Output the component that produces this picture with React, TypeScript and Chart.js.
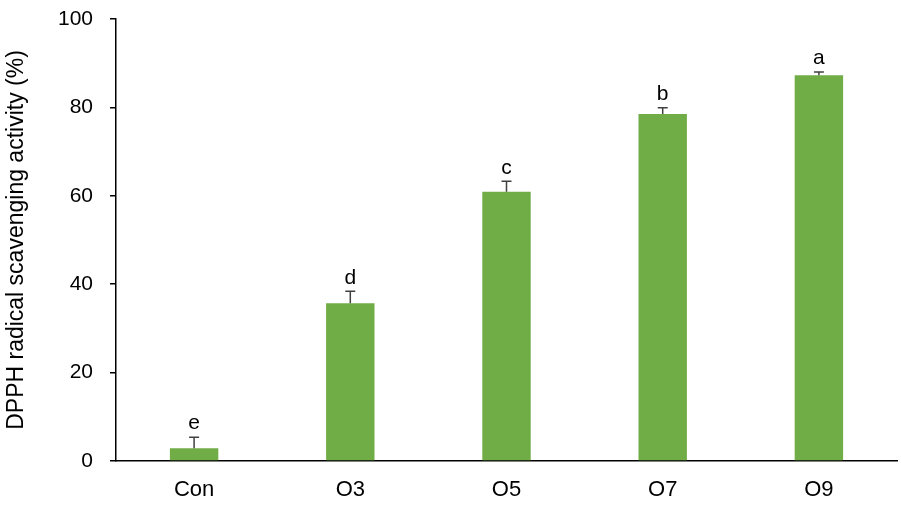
import React, { useEffect, useRef } from "react";
import { Chart, registerables } from "chart.js";

Chart.register(...registerables);

const categories = ["Con", "O3", "O5", "O7", "O9"];
const values = [2.9, 35.7, 60.9, 78.5, 87.3];
const errors = [2.5, 2.7, 2.4, 1.4, 0.7];
const letters = ["e", "d", "c", "b", "a"];
const yTicks = [0, 20, 40, 60, 80, 100];

const FONT = "'Liberation Sans', Arial, sans-serif";

const errorPlugin = {
  id: "errorBarsLetters",
  afterDatasetsDraw(chart: any) {
    const ctx = chart.ctx;
    const meta = chart.getDatasetMeta(0);
    const y = chart.scales.y;
    ctx.save();
    meta.data.forEach((bar: any, i: number) => {
      const x = bar.x;
      const top = y.getPixelForValue(values[i]);
      const et = y.getPixelForValue(values[i] + errors[i]);
      ctx.strokeStyle = "#404040";
      ctx.lineWidth = 1.5;
      ctx.beginPath();
      ctx.moveTo(x, top);
      ctx.lineTo(x, et);
      ctx.moveTo(x - 5, et);
      ctx.lineTo(x + 5, et);
      ctx.stroke();
      ctx.fillStyle = "#000";
      ctx.font = `21px ${FONT}`;
      ctx.textAlign = "center";
      ctx.textBaseline = "bottom";
      ctx.fillText(letters[i], x, et - 3);
    });
    ctx.restore();
  },
};

export default function App() {
  const ref = useRef<HTMLCanvasElement>(null);
  useEffect(() => {
    document.body.style.margin = "0";
    const chart = new Chart(ref.current!, {
      type: "bar",
      data: {
        labels: categories,
        datasets: [
          {
            data: values,
            backgroundColor: "#70AD47",
            borderWidth: 0,
            barPercentage: 0.62,
            categoryPercentage: 0.5,
          },
        ],
      },
      options: {
        animation: false,
        responsive: false,
        maintainAspectRatio: false,
        layout: { padding: { top: 19, right: 4, bottom: 4, left: 0 } },
        plugins: { legend: { display: false }, tooltip: { enabled: false } },
        scales: {
          x: {
            grid: { display: false, drawTicks: false },
            border: { color: "#000", width: 1.5 },
            ticks: { color: "#000", font: { family: FONT, size: 22 }, padding: 16 },
            afterFit: (axis: any) => {
              axis.height = 43;
            },
          },
          y: {
            min: 0,
            max: 100,
            afterBuildTicks: (axis: any) => {
              axis.ticks = yTicks.map((v) => ({ value: v }));
            },
            afterFit: (axis: any) => {
              axis.width = 116;
              axis.paddingTop = 0;
              axis.paddingBottom = 0;
            },
            grid: { drawOnChartArea: false, drawTicks: true, tickLength: 6, color: "#000", lineWidth: 1.5 },
            border: { color: "#000", width: 1.5 },
            ticks: { color: "#000", font: { family: FONT, size: 21 }, padding: 17 },
            title: {
              display: true,
              text: "DPPH radical scavenging activity (%)",
              color: "#000",
              font: { family: FONT, size: 23 },
              padding: { top: 3, bottom: 0 },
            },
          },
        },
      },
      plugins: [errorPlugin],
    });
    return () => chart.destroy();
  }, []);
  return (
    <div style={{ width: 901, height: 508 }}>
      <canvas ref={ref} width={901} height={508} style={{ width: 901, height: 508 }} />
    </div>
  );
}
